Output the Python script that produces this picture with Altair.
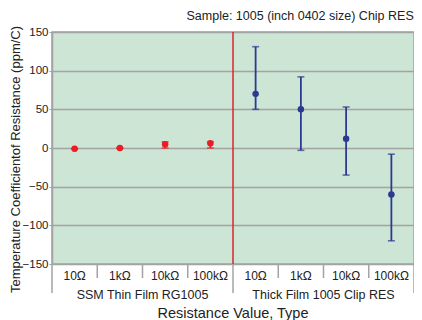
import altair as alt
import pandas as pd

categories = ["10Ω", "1kΩ", "10kΩ", "100kΩ"]
groups = ["SSM Thin Film RG1005", "Thick Film 1005 Clip RES"]

ssm_mean = [-1, 0, 5, 6]
ssm_low = [-1, 0, 0, 0]
ssm_high = [-1, 0, 8, 8]

thick_mean = [70, 50, 12, -60]
thick_low = [50, -3, -35, -120]
thick_high = [131, 92, 53, -8]

y_ticks = [150, 100, 50, 0, -50, -100, -150]

FONT = "Liberation Sans"
GRID = "#a3a3a3"
W, H = 362, 232

rows = []
for gi, (g, means, lows, highs) in enumerate([(groups[0], ssm_mean, ssm_low, ssm_high),
                                               (groups[1], thick_mean, thick_low, thick_high)]):
    for ci, c in enumerate(categories):
        rows.append({"group": g, "cat": c, "pos": gi * 4 + ci + 0.5,
                     "mean": means[ci], "low": lows[ci], "high": highs[ci]})
df = pd.DataFrame(rows)

grp_df = pd.DataFrame({"group": groups, "pos": [2, 6]})
sep_small = pd.DataFrame({"pos": [1, 2, 3, 5, 6, 7]})
sep_big = pd.DataFrame({"pos": [0, 4, 8]})
divider = pd.DataFrame({"pos": [4], "lo": [-150], "hi": [150]})

xs = alt.Scale(domain=[0, 8], nice=False, zero=False)
ys = alt.Scale(domain=[-150, 150], nice=False, zero=False)

color_scale = alt.Scale(domain=groups, range=["#ec1c24", "#2b3990"])

yaxis = alt.Axis(values=y_ticks, grid=True, gridColor=GRID, gridWidth=1.5,
                 domainColor=GRID, domainWidth=1.5, tickColor=GRID, tickSize=3,
                 labelOverlap=False, labelPadding=1, labelFont=FONT,
                 labelFontSize=11.5, labelColor="#222",
                 title="Temperature Coefficientof Resistance (ppm/C)",
                 titleFont=FONT, titleFontSize=13, titleFontWeight="normal",
                 titleColor="#222", titleX=-37, titleY=127, titleAngle=270,
                 titleAlign="center", titleBaseline="middle")


def Y(field):
    return alt.Y(field, scale=ys, axis=yaxis)


X = alt.X("pos:Q", scale=xs, axis=None)
C = alt.Color("group:N", scale=color_scale, legend=None)

base = alt.Chart(df)

bars = base.mark_rule(strokeWidth=1.8).encode(x=X, y=Y("low:Q"), y2="high:Q", color=C)
caps_hi = base.mark_tick(orient="horizontal", size=7, thickness=1.6).encode(
    x=X, y=Y("high:Q"), color=C)
caps_lo = base.mark_tick(orient="horizontal", size=7, thickness=1.6).encode(
    x=X, y=Y("low:Q"), color=C)
points = base.mark_circle(size=42, opacity=1).encode(x=X, y=Y("mean:Q"), color=C)

red_line = alt.Chart(divider).mark_rule(color="#d9262c", strokeWidth=1.5).encode(
    x=X, y=Y("lo:Q"), y2="hi:Q"
)

small_sep = alt.Chart(sep_small).mark_rule(color=GRID, strokeWidth=1.5).encode(
    x=X, y=alt.value(H), y2=alt.value(H + 14)
)
big_sep = alt.Chart(sep_big).mark_rule(color=GRID, strokeWidth=1.5).encode(
    x=X, y=alt.value(H), y2=alt.value(H + 29)
)

cat_labels = base.mark_text(font=FONT, fontSize=12, color="#222", baseline="middle").encode(
    x=X, y=alt.value(H + 12), text="cat:N"
)
grp_labels = alt.Chart(grp_df).mark_text(font=FONT, fontSize=12.5, color="#222",
                                         baseline="middle").encode(
    x=X, y=alt.value(H + 31), text="group:N"
)
x_title = alt.Chart(pd.DataFrame({"t": ["Resistance Value, Type"], "pos": [4]})).mark_text(
    font=FONT, fontSize=14.5, color="#222", baseline="middle").encode(
    x=X, y=alt.value(H + 50), text="t:N"
)

chart = alt.layer(
    bars, caps_hi, caps_lo, points, red_line, small_sep, big_sep,
    cat_labels, grp_labels, x_title
).properties(
    width=W, height=H,
    title=alt.TitleParams("Sample: 1005 (inch 0402 size) Chip RES", anchor="end",
                          font=FONT, fontSize=12.5, fontWeight="normal",
                          color="#222", offset=3, dx=-1),
    autosize=alt.AutoSizeParams(type="none"),
    padding={"left": 44, "top": 24, "right": 0, "bottom": 56},
).configure_view(
    fill="#cce5d4", stroke=GRID, strokeWidth=1.5
)

chart.save("out.html", embed_options={"renderer": "svg", "actions": False})
